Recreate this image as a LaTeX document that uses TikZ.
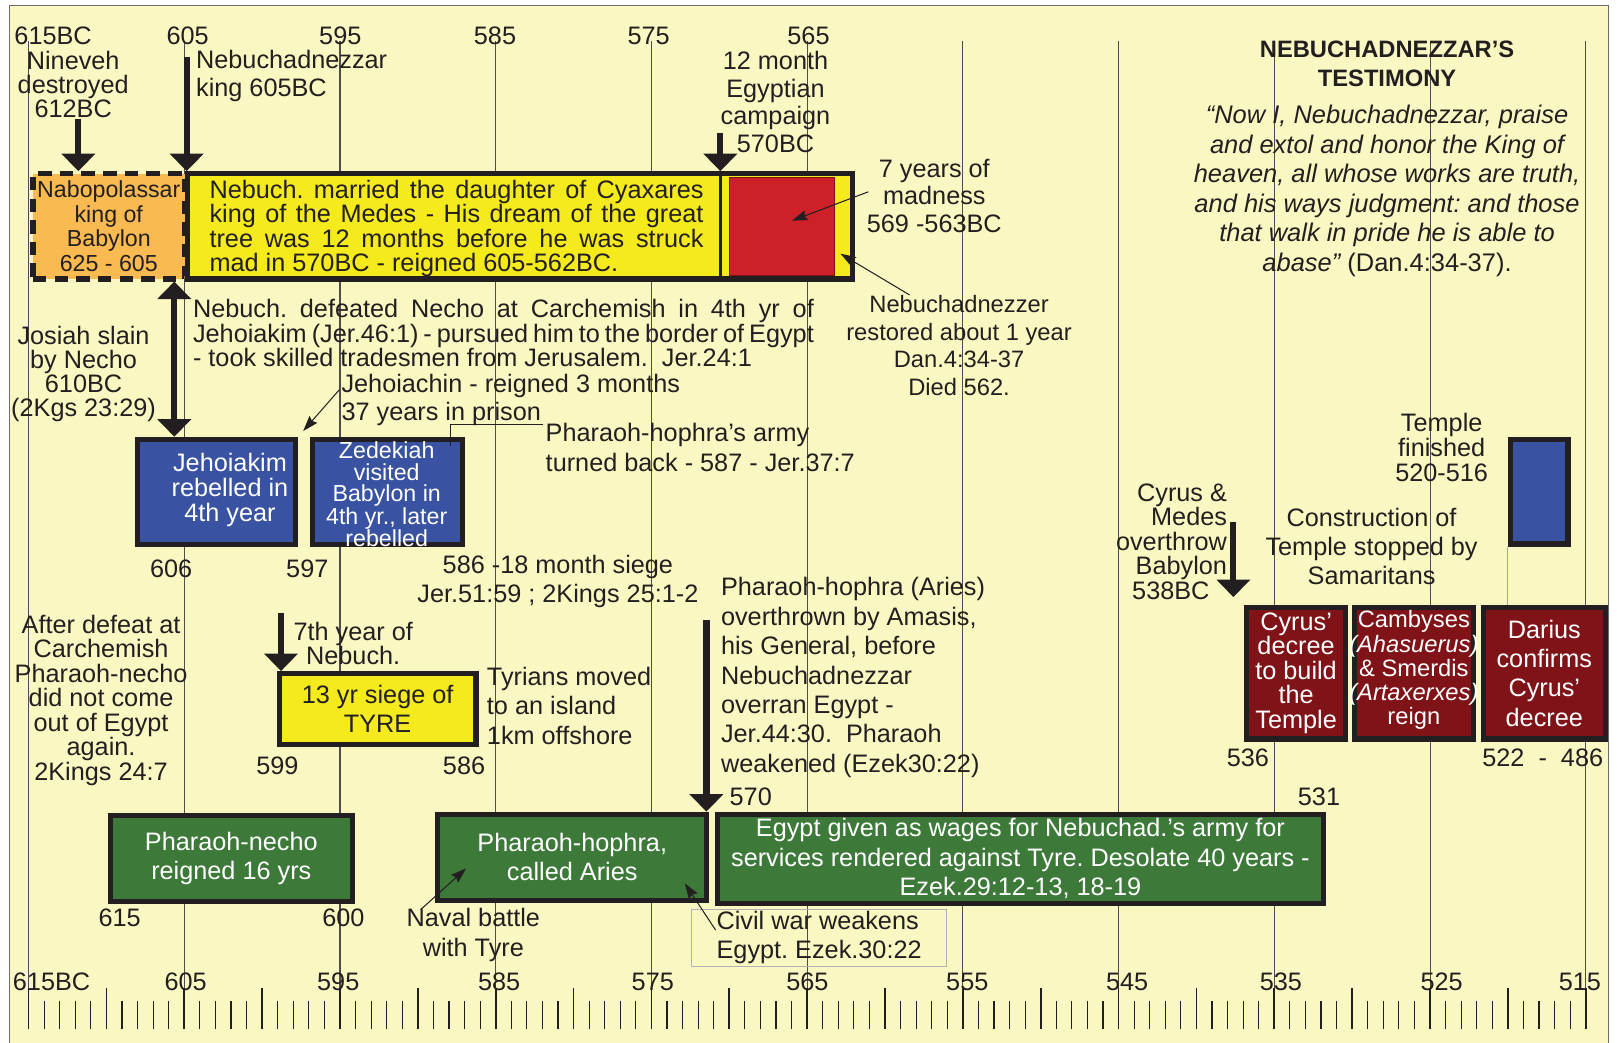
\documentclass[tikz,border=0pt]{standalone}
\usepackage{fontspec}
\setmainfont{Liberation Sans}
\usepackage{xcolor}
\usepackage{tikz}
\usetikzlibrary{arrows.meta,positioning}
\definecolor{Parchment}{RGB}{250,248,194}
\definecolor{Lemon}{RGB}{245,234,28}
\definecolor{Amber}{RGB}{250,186,82}
\definecolor{Crimson}{RGB}{206,32,41}
\definecolor{Royal}{RGB}{57,82,162}
\definecolor{Nile}{RGB}{61,122,57}
\definecolor{Maroon}{RGB}{127,19,23}
\definecolor{Ink}{RGB}{35,31,32}
\definecolor{Frame}{RGB}{110,110,110}
\newcommand{\spread}[2]{\makebox[#1][s]{#2}}
\frenchspacing
\tikzset{
  txt/.style={inner sep=0pt,align=center,text=Ink,font=\fontsize{24.5}{24.5}\selectfont},
  lead/.style={font=\fontsize{24.5}{#1}\selectfont},
  wtxt/.style={txt,text=white},
  box/.style={draw=Ink,line width=5pt,inner sep=0pt},
  lemonbox/.style={box,fill=Lemon},
  bluebox/.style={box,fill=Royal},
  greenbox/.style={box,fill=Nile},
  maroonbox/.style={box,fill=Maroon},
  gridline/.style={draw=Ink!80,line width=1pt},
  yeartick/.style={draw=Ink,line width=1.1pt},
  bigarrow/.style={draw=Ink,line width=6pt,-{Triangle[width=32pt,length=17pt]}},
  bigdouble/.style={draw=Ink,line width=6pt,{Triangle[width=32pt,length=17pt]}-{Triangle[width=32pt,length=17pt]}},
  thinarrow/.style={draw=Ink,line width=1pt,-{Stealth[length=15pt,width=10pt,inset=2pt]}},
  leader/.style={draw=Ink,line width=1pt}
}
\begin{document}
\begin{tikzpicture}[x=1pt,y=-1pt]
\useasboundingbox (0,0) rectangle (1568,1011);
\fill[Parchment] (9,5) rectangle (1560,1011);
\draw[Frame,line width=1pt] (9,1011) -- (9,5) -- (1560,5) -- (1560,1011);
\foreach \i in {0,...,10} \draw[gridline] ({27.7+151*\i},40) -- ({27.7+151*\i},998);
\foreach \i in {0,...,100} \draw[yeartick] ({27.7+15.1*\i},971) -- ({27.7+15.1*\i},998);
\foreach \i in {0,5,...,100} \draw[yeartick,line width=1.7pt] ({27.7+15.1*\i},958) -- ({27.7+15.1*\i},998);

\node[txt] (top615) at (51.5,35) {615BC};
\foreach \yy/\xx in {605/182,595/330,585/480,575/629,565/784} \node[txt] (top\yy) at (\xx,35) {\yy};
\node[txt] (bot615) at (50,952) {615BC};
\foreach \yy/\xx in {605/180,595/328,585/484,575/633,565/783,555/938,545/1093,535/1242,525/1398,515/1532} \node[txt] (bot\yy) at (\xx,952) {\yy};

\node[lemonbox,minimum width=645pt,minimum height=102pt] (reign) at (504,219.5) {};
\node[box,fill=Amber,dash pattern=on 13pt off 8pt,minimum width=147pt,minimum height=102pt,txt,font=\fontsize{22.5}{23.7}\selectfont] (nabo) at (105.5,219.5) {Nabopolassar\\king of\\Babylon\\625 - 605};
\coordinate (campaign) at (698.5,129);
\draw[Ink,line width=3pt] (campaign |- reign.north) -- (campaign |- reign.south);
\node[draw=Maroon,line width=1pt,fill=Crimson,minimum width=102pt,minimum height=95pt] (madness) at (758.5,220) {};
\node[txt,lead=23.7,align=left,anchor=west] (reigntxt) at (203,221.5) {\spread{479pt}{Nebuch. married the daughter of Cyaxares}\\\spread{479pt}{king of the Medes - His dream of the great}\\\spread{479pt}{tree was 12 months before he was struck}\\mad in 570BC - reigned 605-562BC.};

\node[txt,lead=23.5] (nineveh) at (71,82) {Nineveh\\destroyed\\612BC};
\node[txt,lead=27,align=left,anchor=west] (kingtxt) at (190,73.5) {Nebuchadnezzar\\king 605BC};
\node[txt,lead=26.7] (campaigntxt) at (752,99) {12 month\\Egyptian\\campaign\\570BC};
\node[txt,lead=26.5] (madnesstxt) at (906,190) {7 years of\\madness\\569 -563BC};
\node[txt,font=\fontsize{23}{26.7}\selectfont] (restoredtxt) at (930,335) {Nebuchadnezzer\\restored about 1 year\\Dan.4:34-37\\Died 562.};
\node[txt,lead=23.3] (josiah) at (81,363) {Josiah slain\\by Necho\\610BC\\(2Kgs 23:29)};
\node[txt,lead=23.5,align=left,anchor=west] (carchemish) at (187,323) {\spread{602pt}{Nebuch. defeated Necho at Carchemish in 4th yr of}\\\spread{602pt}{Jehoiakim (Jer.46:1) - pursued him to the border of Egypt}\\- took skilled tradesmen from Jerusalem.\ \ Jer.24:1};
\node[txt,lead=27,align=left,anchor=west] (jehoiachin) at (331,388) {Jehoiachin - reigned 3 months\\37 years in prison};
\node[txt,lead=29,align=left,anchor=west] (army) at (529,434) {Pharaoh-hophra’s army\\turned back - 587 - Jer.37:7};

\node[bluebox,minimum width=153pt,minimum height=102pt] (jehoiakim) at (210,477) {};
\node[wtxt] (jehoiakimtxt) at (223,475) {Jehoiakim\\rebelled in\\4th year};
\node[bluebox,minimum width=145.5pt,minimum height=102pt] (zedekiah) at (375.75,477) {};
\node[wtxt,font=\fontsize{22.5}{20.8}\selectfont] (zedekiahtxt) at (375,479.5) {Zedekiah\\visited\\Babylon in\\4th yr., later\\rebelled};
\node[txt] (y606) at (166,552) {606}; \node[txt] (y597) at (298,552) {597};
\node[txt,lead=28] (siege) at (541,564) {586 -18 month siege\\Jer.51:59 ; 2Kings 25:1-2};

\node[txt,lead=23.7] (aftertxt) at (98,679) {After defeat at\\Carchemish\\Pharaoh-necho\\did not come\\out of Egypt\\again.\\2Kings 24:7};
\node[txt,lead=24] (seventh) at (342.5,624) {7th year of\\Nebuch.};
\node[lemonbox,txt,lead=28,minimum width=190.6pt,minimum height=68.3pt] (tyre) at (366.2,687.4) {13 yr siege of\\TYRE};
\node[txt,lead=28.5,align=left,anchor=west] (tyrians) at (472,684.5) {Tyrians moved\\to an island\\1km offshore};
\node[txt] (y599) at (269,743) {599}; \node[txt] (y586) at (450,743) {586};
\node[txt,lead=28.5,align=left,anchor=west] (amasistxt) at (699,657) {Pharaoh-hophra (Aries)\\overthrown by Amasis,\\his General, before\\Nebuchadnezzar\\overran Egypt -\\Jer.44:30.\ \ Pharaoh\\weakened (Ezek30:22)};
\node[txt] (y570) at (728,773) {570};

\node[greenbox,wtxt,lead=28,minimum width=234.5pt,minimum height=83.5pt] (necho) at (224.3,832.3) {Pharaoh-necho\\reigned 16 yrs};
\node[greenbox,wtxt,lead=28,minimum width=261pt,minimum height=83.7pt] (hophra) at (554.9,831.4) {Pharaoh-hophra,\\called Aries};
\node[greenbox,wtxt,lead=28.5,minimum width=588pt,minimum height=86.5pt] (wages) at (989.5,832.75) {Egypt given as wages for Nebuchad.’s army for\\services rendered against Tyre. Desolate 40 years -\\Ezek.29:12-13, 18-19};
\node[txt] (y615) at (116,890) {615}; \node[txt] (y600) at (333,890) {600};
\node[txt,lead=29] (naval) at (459,907) {Naval battle\\with Tyre};
\node[txt,lead=28,align=left,draw=gray!60,line width=1pt,minimum width=246.6pt,minimum height=55.5pt] (civil) at (794.3,909.25) {Civil war weakens\\Egypt. Ezek.30:22};

\node[txt,font=\bfseries\fontsize{23}{28}\selectfont] (title) at (1345,62) {NEBUCHADNEZZAR’S\\TESTIMONY};
\node[txt,font=\itshape\fontsize{24.7}{28.6}\selectfont] (quote) at (1345,185) {“Now I, Nebuchadnezzar, praise\\and extol and honor the King of\\heaven, all whose works are truth,\\and his ways judgment: and those\\that walk in pride he is able to\\abase”\upshape{} (Dan.4:34-37).};
\node[txt,lead=24] (finished) at (1398,434) {Temple\\finished\\520-516};
\node[bluebox,minimum width=56pt,minimum height=101.5pt] (temple) at (1492.5,476.7) {};
\node[txt,lead=28.5] (stopped) at (1330,530) {Construction of\\Temple stopped by\\Samaritans};
\node[txt,lead=23.75,align=right,anchor=east] (medes) at (1190,525) {Cyrus \&\\Medes\\overthrow\\Babylon\\538BC\hspace*{17pt}};
\node[maroonbox,wtxt,lead=23.75,minimum width=95.5pt,minimum height=127.5pt] (decree) at (1256.8,652.8) {Cyrus’\\decree\\to build\\the\\Temple};
\node[maroonbox,minimum width=115.5pt,minimum height=127.5pt] (cambyses) at (1370.8,652.8) {};
\node[wtxt,font=\fontsize{23}{23.5}\selectfont] (cambysestxt) at (1371,650) {Cambyses\\\textit{(Ahasuerus)}\\\& Smerdis\\\textit{(Artaxerxes)}\\reign};
\node[maroonbox,wtxt,lead=28.3,minimum width=118pt,minimum height=127.5pt] (darius) at (1497.5,652.8) {Darius\\confirms\\Cyrus’\\decree};
\node[txt] (y536) at (1210,735) {536}; \node[txt] (y531) at (1279,773) {531}; \node[txt] (y522) at (1496,735) {522~~-~~486};
\draw[draw=gray!70,line width=1.2pt] (temple.south west) -- (temple.south west |- darius.north);

\coordinate (ninevehArrow) at (76,115); \coordinate (kingArrow) at (181,55); \coordinate (carchemishArrow) at (169,300);
\coordinate (seventhArrow) at (272.5,594); \coordinate (amasisArrow) at (685,601);
\coordinate (medesArrow) at (1196,506); \coordinate (medesTip) at (1196,579);
\draw[bigarrow] (ninevehArrow) -- (ninevehArrow |- nabo.north); \draw[bigarrow] (kingArrow) -- (kingArrow |- reign.north);
\draw[bigarrow] (campaign) -- (campaign |- reign.north); \draw[bigdouble] (carchemishArrow |- nabo.south) -- (carchemishArrow |- jehoiakim.north);
\draw[bigarrow] (seventhArrow) -- (seventhArrow |- tyre.north); \draw[bigarrow] (amasisArrow) -- (amasisArrow |- hophra.north);
\draw[bigarrow] (medesArrow) -- (medesTip);

\coordinate (madnessTail) at (842,186); \coordinate (madnessTip) at (768,214);
\coordinate (restoredTail) at (882,286); \coordinate (restoredTip) at (815,246);
\coordinate (jehoiachinTail) at (329,378); \coordinate (jehoiachinTip) at (294,418);
\coordinate (navalTail) at (408,882); \coordinate (navalTip) at (452,842);
\coordinate (civilTail) at (694,902); \coordinate (civilTip) at (664,856.5);
\coordinate (armyBend) at (437,412); \coordinate (armyFoot) at (437,432);
\draw[thinarrow] (madnessTail) -- (madnessTip); \draw[thinarrow] (restoredTail) -- (restoredTip);
\draw[thinarrow] (jehoiachinTail) -- (jehoiachinTip); \draw[thinarrow] (navalTail) -- (navalTip);
\draw[thinarrow] (civilTail) -- (civilTip); \draw[leader,shorten >=2.5pt] (armyFoot) -- (armyBend) -- (armyBend -| army.west);
\end{tikzpicture}
\end{document}
